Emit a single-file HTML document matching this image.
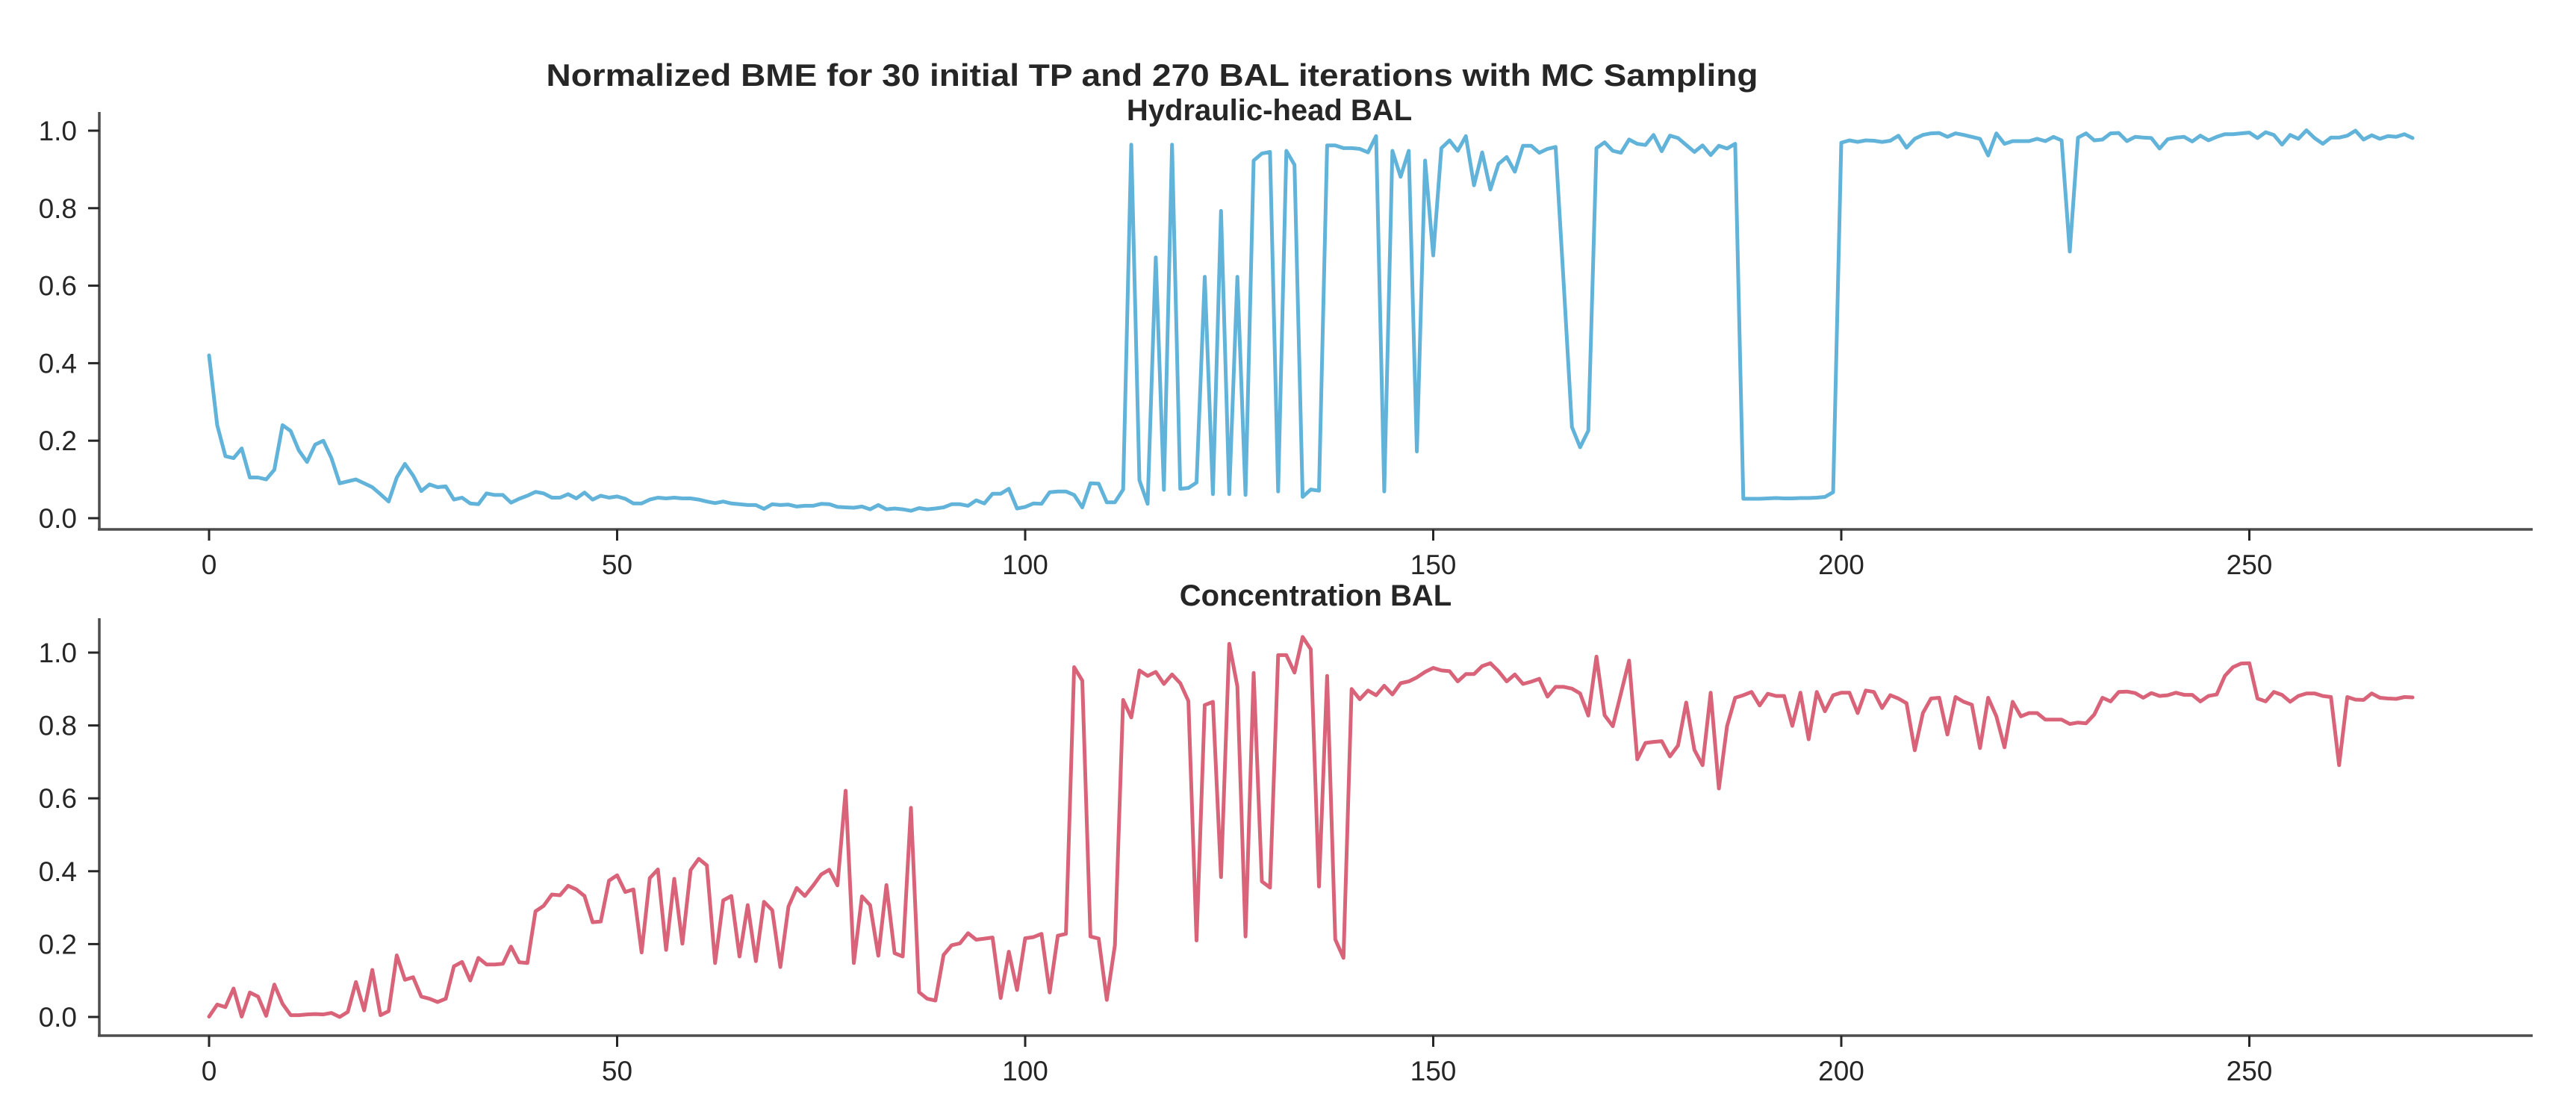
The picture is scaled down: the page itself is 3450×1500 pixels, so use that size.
<!DOCTYPE html>
<html><head><meta charset="utf-8"><style>
html,body{margin:0;padding:0;background:#fff}
svg{display:block}
text{font-family:"Liberation Sans",Arial,sans-serif;fill:#262626}
</style></head><body>
<svg id="chart" width="3450" height="1500" viewBox="0 0 3450 1500" xmlns="http://www.w3.org/2000/svg">
<text x="1543" y="115" font-size="42" font-weight="bold" text-anchor="middle" textLength="1623" lengthAdjust="spacingAndGlyphs">Normalized BME for 30 initial TP and 270 BAL iterations with MC Sampling</text>
<text x="1700" y="161" font-size="40" font-weight="bold" text-anchor="middle">Hydraulic-head BAL</text>
<text x="1762" y="811" font-size="40" font-weight="bold" text-anchor="middle">Concentration BAL</text>
<g id="top"></g>
<g id="bot"></g>
</svg>
<script>
const xTicks = [0, 50, 100, 150, 200, 250];
const yTicks = [0.0, 0.2, 0.4, 0.6, 0.8, 1.0];
const yTickLabels = ["0.0", "0.2", "0.4", "0.6", "0.8", "1.0"];
const headBME = [0.42,0.24,0.16,0.155,0.18,0.105,0.105,0.10,0.125,0.24,0.225,0.175,0.145,0.19,0.20,0.155,0.09,0.095,0.10,0.09,
0.08,0.062,0.043,0.105,0.14,0.11,0.07,0.087,0.08,0.082,0.048,0.053,0.038,0.036,0.064,0.06,0.06,0.04,0.05,0.058,
0.068,0.064,0.053,0.053,0.062,0.051,0.066,0.048,0.058,0.053,0.056,0.05,0.038,0.038,0.048,0.053,0.051,0.053,0.051,0.051,
0.048,0.043,0.039,0.043,0.038,0.036,0.034,0.034,0.024,0.036,0.034,0.035,0.03,0.032,0.032,0.037,0.036,0.029,0.028,0.027,
0.03,0.023,0.034,0.023,0.025,0.023,0.019,0.026,0.023,0.025,0.028,0.036,0.036,0.032,0.046,0.038,0.063,0.063,0.076,0.025,
0.029,0.038,0.037,0.067,0.069,0.069,0.06,0.028,0.09,0.089,0.041,0.041,0.074,0.964,0.098,0.037,0.673,0.073,0.964,0.076,
0.078,0.092,0.623,0.062,0.793,0.062,0.623,0.06,0.923,0.941,0.945,0.069,0.948,0.912,0.055,0.074,0.071,0.962,0.962,0.955,
0.955,0.953,0.944,0.986,0.069,0.948,0.881,0.948,0.172,0.923,0.678,0.955,0.975,0.948,0.986,0.859,0.944,0.848,0.914,0.932,
0.894,0.961,0.961,0.943,0.953,0.958,0.6,0.235,0.183,0.226,0.955,0.970,0.948,0.943,0.977,0.966,0.963,0.989,0.947,0.987,
0.981,0.963,0.945,0.962,0.937,0.961,0.954,0.966,0.05,0.05,0.05,0.051,0.052,0.051,0.051,0.052,0.052,0.053,0.055,0.067,
0.969,0.975,0.971,0.975,0.974,0.971,0.974,0.987,0.956,0.979,0.989,0.993,0.994,0.984,0.993,0.989,0.984,0.979,0.936,0.993,
0.966,0.973,0.973,0.973,0.979,0.973,0.984,0.975,0.688,0.982,0.993,0.975,0.977,0.993,0.994,0.973,0.984,0.982,0.981,0.954,
0.978,0.982,0.984,0.972,0.987,0.975,0.984,0.991,0.991,0.993,0.995,0.981,0.996,0.989,0.964,0.989,0.979,1.001,0.981,0.966,
0.982,0.982,0.987,1.0,0.977,0.988,0.979,0.986,0.984,0.991,0.981];
const concBME = [0.001,0.034,0.027,0.078,0.001,0.067,0.056,0.003,0.089,0.036,0.005,0.005,0.007,0.008,0.007,0.011,0,0.014,0.096,0.018,
0.129,0.005,0.016,0.169,0.102,0.109,0.056,0.05,0.041,0.05,0.139,0.151,0.1,0.162,0.144,0.144,0.146,0.193,0.15,0.148,
0.29,0.305,0.336,0.334,0.36,0.35,0.332,0.26,0.262,0.374,0.389,0.343,0.35,0.177,0.381,0.405,0.184,0.379,0.201,0.403,
0.434,0.416,0.148,0.32,0.332,0.166,0.307,0.153,0.316,0.293,0.137,0.303,0.354,0.332,0.36,0.391,0.404,0.361,0.621,0.148,
0.331,0.307,0.168,0.362,0.175,0.166,0.574,0.068,0.05,0.045,0.17,0.197,0.202,0.23,0.212,0.215,0.218,0.052,0.179,0.074,
0.216,0.219,0.228,0.067,0.223,0.228,0.96,0.923,0.221,0.215,0.047,0.197,0.87,0.822,0.951,0.936,0.947,0.914,0.94,0.916,
0.867,0.21,0.856,0.865,0.384,1.024,0.907,0.221,0.944,0.372,0.355,0.993,0.993,0.945,1.043,1.009,0.358,0.936,0.213,0.162,
0.9,0.872,0.896,0.883,0.909,0.885,0.916,0.921,0.932,0.947,0.958,0.951,0.949,0.921,0.941,0.941,0.963,0.971,0.949,0.921,
0.94,0.914,0.92,0.928,0.879,0.906,0.906,0.901,0.888,0.827,0.989,0.828,0.798,0.888,0.978,0.707,0.752,0.755,0.757,0.715,
0.745,0.863,0.733,0.691,0.89,0.627,0.798,0.876,0.883,0.892,0.855,0.887,0.881,0.881,0.799,0.89,0.762,0.892,0.839,0.883,
0.89,0.89,0.834,0.896,0.892,0.848,0.883,0.874,0.861,0.732,0.834,0.874,0.876,0.775,0.878,0.865,0.857,0.738,0.876,0.825,
0.74,0.865,0.825,0.834,0.834,0.816,0.816,0.816,0.804,0.808,0.806,0.83,0.876,0.866,0.892,0.893,0.889,0.876,0.889,0.881,
0.883,0.89,0.884,0.884,0.866,0.881,0.885,0.936,0.96,0.97,0.971,0.874,0.866,0.892,0.884,0.865,0.881,0.888,0.888,0.881,
0.878,0.691,0.878,0.871,0.87,0.888,0.876,0.874,0.873,0.878,0.877];

const NS = "http://www.w3.org/2000/svg";
const xScale = v => 280 + v * 10.93;
function mk(tag, attrs, parent) {
  const e = document.createElementNS(NS, tag);
  for (const k in attrs) e.setAttribute(k, attrs[k]);
  parent.appendChild(e);
  return e;
}
function panel(g, data, color, y0, h, spineTop, spineY, prefix) {
  const yScale = v => y0 - v * h;
  const ls = mk('line', {x1:133, y1:spineTop, x2:133, y2:spineY, stroke:'#4d4d4d', 'stroke-width':3.5}, g);
  
  
  const bs = mk('line', {x1:131, y1:spineY, x2:3392, y2:spineY, stroke:'#4d4d4d', 'stroke-width':3.5}, g);
  
  
  yTicks.forEach((t, i) => {
    const y = yScale(t);
    const tk = mk('line', {x1:118, y1:y, x2:133, y2:y, stroke:'#262626', 'stroke-width':3}, g);
    
    
    const tx = mk('text', {x:103, y:y + 13, 'font-size':37, 'text-anchor':'end'}, g);
    tx.textContent = yTickLabels[i];
    
    
  });
  xTicks.forEach(t => {
    const x = xScale(t);
    const tk = mk('line', {x1:x, y1:spineY, x2:x, y2:spineY + 15, stroke:'#262626', 'stroke-width':3}, g);
    
    
    const tx = mk('text', {x:x, y:spineY + 60, 'font-size':37, 'text-anchor':'middle'}, g);
    tx.textContent = String(t);
    
    
  });
  const pts = data.map((v, i) => xScale(i).toFixed(1) + ',' + yScale(v).toFixed(1)).join(' ');
  const pl = mk('polyline', {points:pts, fill:'none', stroke:color, 'stroke-width':5, 'stroke-linejoin':'round', 'stroke-linecap':'round'}, g);
  
  
}
panel(document.getElementById('top'), headBME, '#62b3d9', 694, 519, 150, 709, 'hydraulic-head');
panel(document.getElementById('bot'), concBME, '#d9647a', 1362, 488, 828, 1387, 'concentration');
</script>
</body></html>
